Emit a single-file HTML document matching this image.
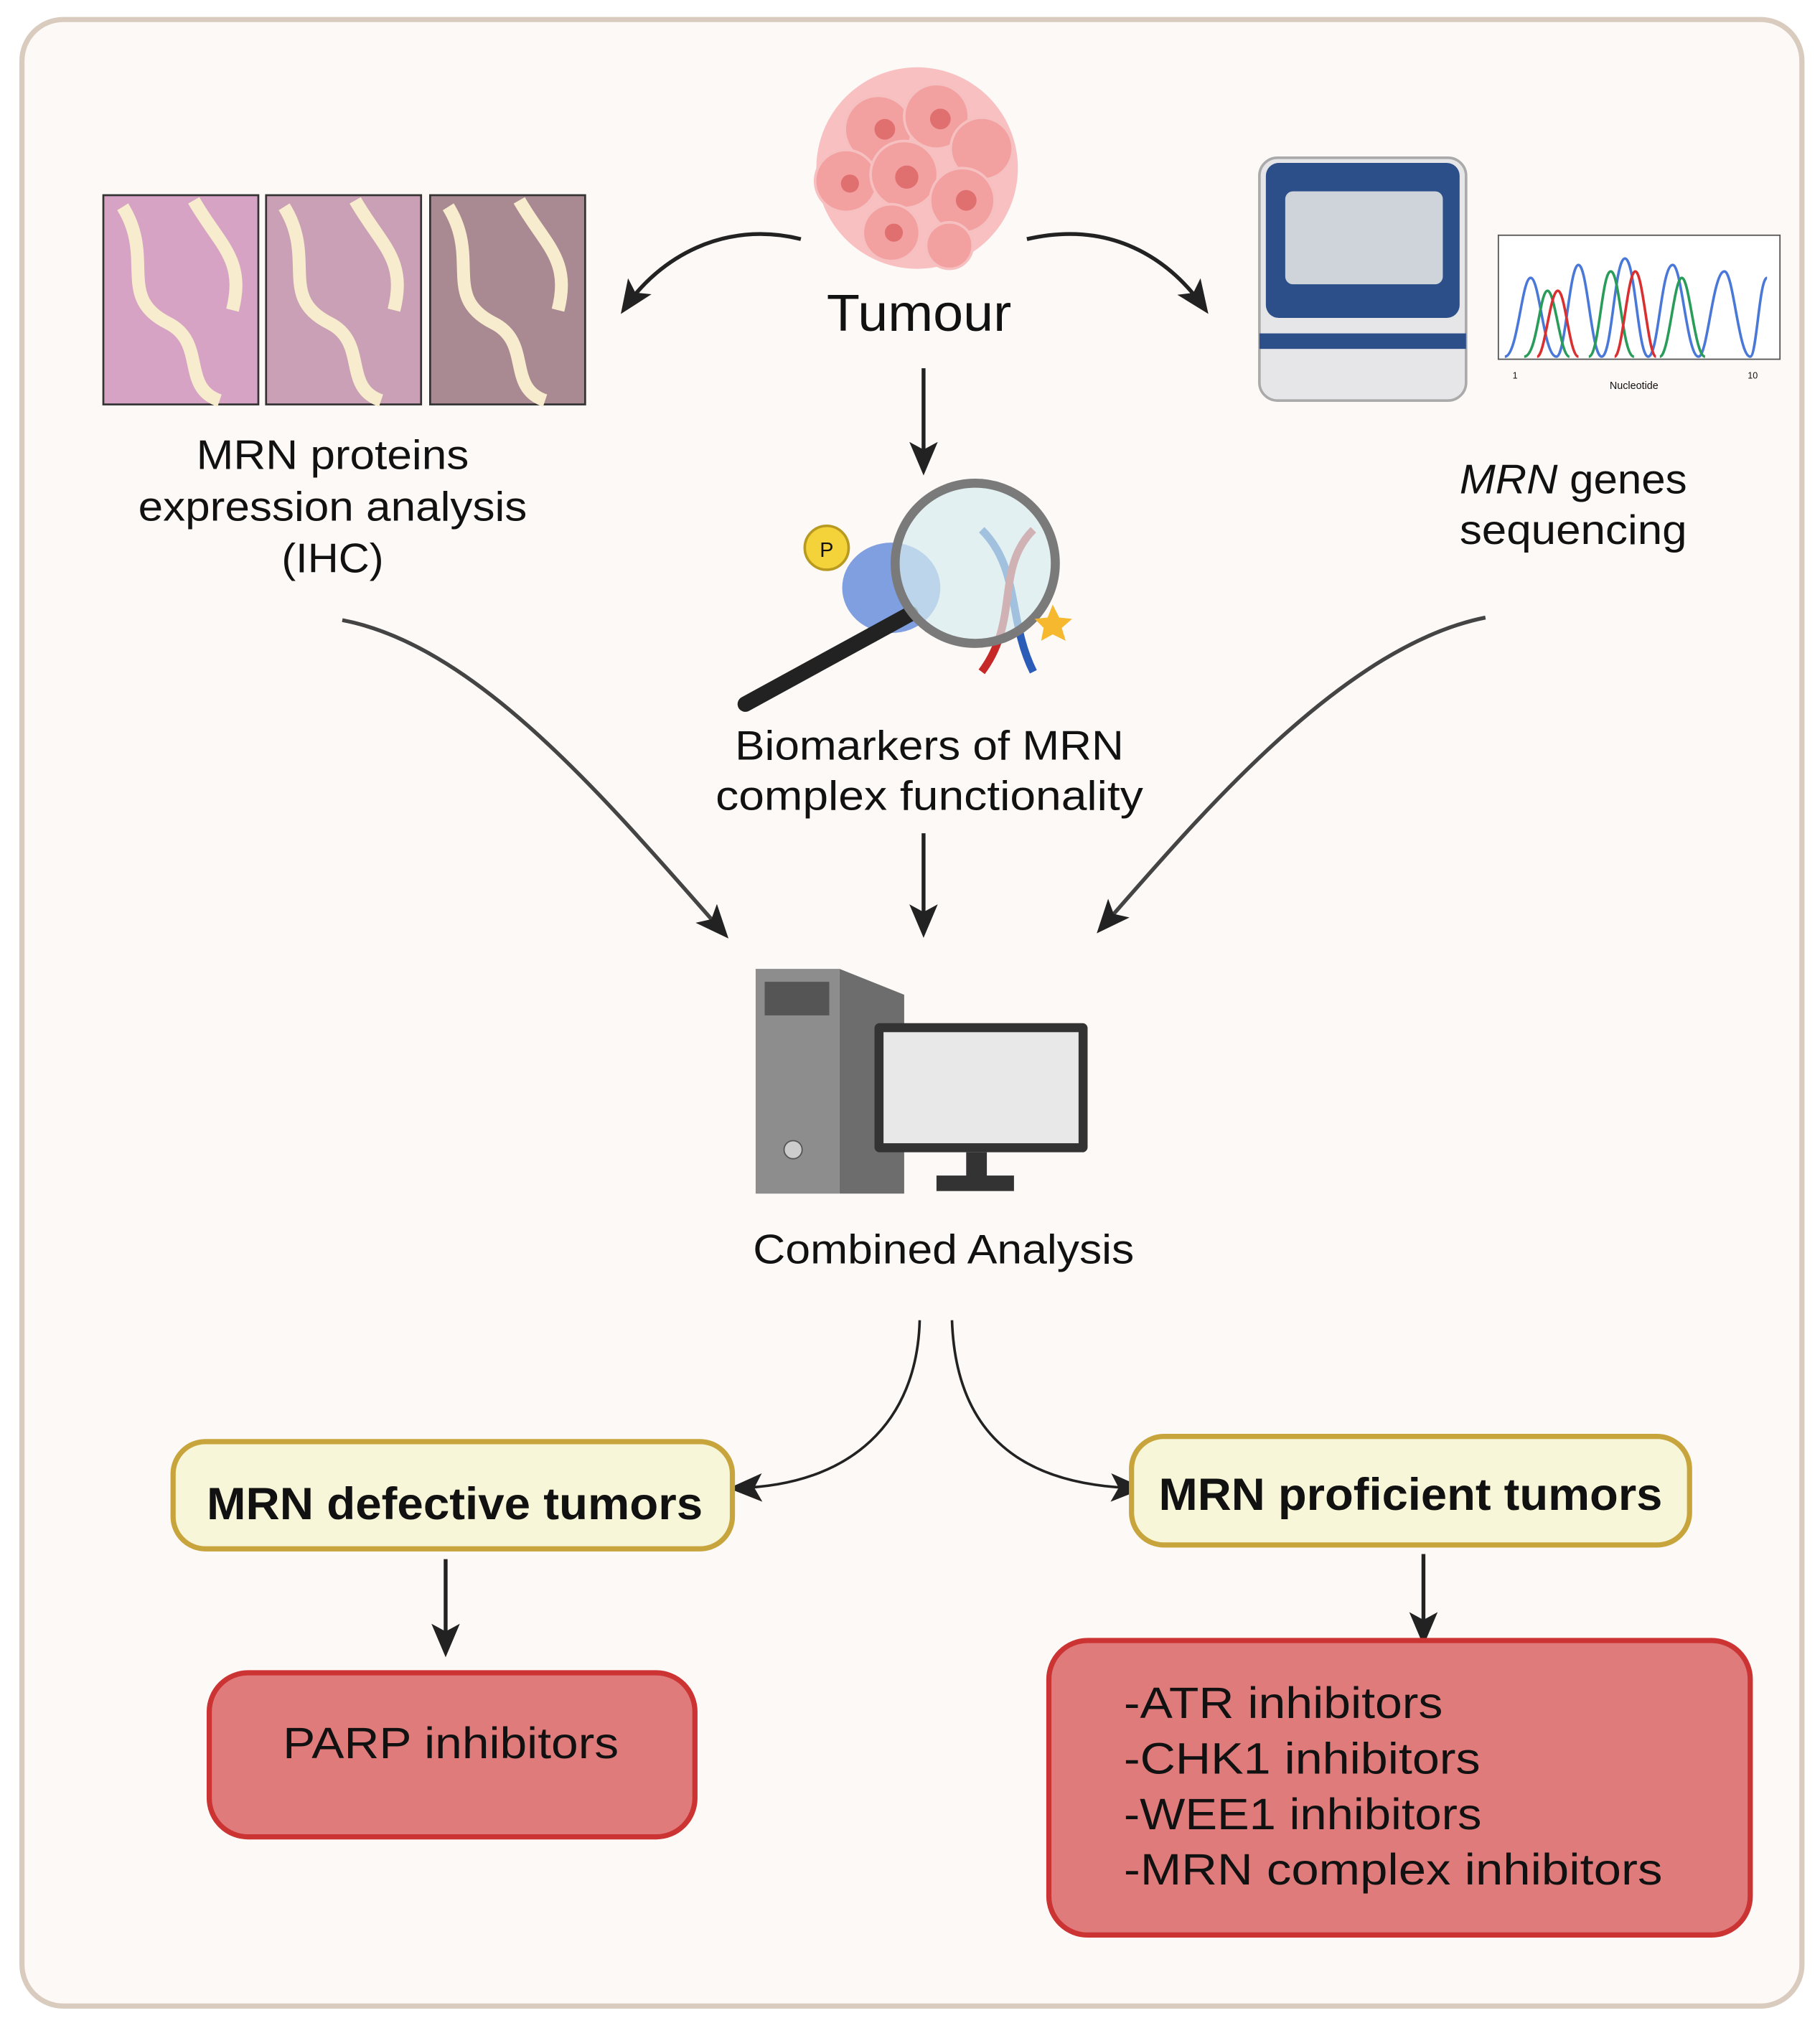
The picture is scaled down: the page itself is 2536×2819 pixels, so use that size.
<!DOCTYPE html>
<html><head><meta charset="utf-8"><style>html,body{margin:0;padding:0;background:#fff}svg{display:block}text{font-family:"Liberation Sans",sans-serif;fill:#111}</style></head><body>
<svg width="2536" height="2819" viewBox="0 0 1409 1566" xmlns="http://www.w3.org/2000/svg">
<defs>
<marker id="ah2" markerWidth="26" markerHeight="26" refX="20" refY="13" orient="auto" markerUnits="userSpaceOnUse" viewBox="0 0 26 26"><path d="M0,2 L26,13 L0,24 L6,13 z" fill="#222"/></marker>
</defs>
<rect x="17" y="15" width="1378" height="1538" rx="32" fill="#fdf9f6" stroke="#dacbbf" stroke-width="4"/>
<!-- tumour -->
<g fill="#f3a0a0" stroke="#f7c0c0" stroke-width="2">
<circle cx="710" cy="130" r="78" fill="#f8c0c0" stroke="none"/>
<circle cx="680" cy="100" r="26"/><circle cx="725" cy="90" r="25"/><circle cx="760" cy="115" r="24"/><circle cx="655" cy="140" r="24"/>
<circle cx="700" cy="135" r="26"/><circle cx="745" cy="155" r="25"/><circle cx="690" cy="180" r="22"/><circle cx="735" cy="190" r="18"/>
</g>
<g fill="#e07070"><circle cx="685" cy="100" r="8"/><circle cx="728" cy="92" r="8"/><circle cx="702" cy="137" r="9"/><circle cx="748" cy="155" r="8"/><circle cx="658" cy="142" r="7"/><circle cx="692" cy="180" r="7"/></g>
<text x="640" y="256" font-size="40" textLength="143" lengthAdjust="spacingAndGlyphs">Tumour</text>
<!-- IHC panels -->
<g stroke="#333" stroke-width="1.5">
<rect x="80" y="151" width="120" height="162" fill="#d7a3c4"/>
<rect x="206" y="151" width="120" height="162" fill="#c9a0b5"/>
<rect x="333" y="151" width="120" height="162" fill="#a98992"/>
</g>
<g fill="none" stroke="#f7eccd" stroke-width="10">
<path d="M95,160 C120,200 90,230 130,250 C160,265 140,300 170,310"/><path d="M150,155 C170,190 190,200 180,240"/>
<path d="M220,160 C245,200 215,230 255,250 C285,265 265,300 295,310"/><path d="M275,155 C295,190 315,200 305,240"/>
<path d="M347,160 C372,200 342,230 382,250 C412,265 392,300 422,310"/><path d="M402,155 C422,190 442,200 432,240"/>
</g>
<text font-size="32"><tspan x="152" y="363" textLength="211" lengthAdjust="spacingAndGlyphs">MRN proteins</tspan></text>
<text x="107" y="403" font-size="32" textLength="301" lengthAdjust="spacingAndGlyphs">expression analysis</text>
<text x="218" y="443" font-size="32" textLength="79" lengthAdjust="spacingAndGlyphs">(IHC)</text>
<!-- sequencer -->
<rect x="975" y="122" width="160" height="188" rx="14" fill="#e6e6e8" stroke="#aaa" stroke-width="2"/>
<rect x="980" y="126" width="150" height="120" rx="10" fill="#2c4f8a"/>
<rect x="995" y="148" width="122" height="72" rx="6" fill="#cfd4da"/>
<rect x="975" y="258" width="160" height="12" fill="#2c4f8a"/>
<rect x="1160" y="182" width="218" height="96" fill="#fff" stroke="#555" stroke-width="1"/>
<path d="M1165,276 C1175,276 1178,215 1185,215 C1192,215 1195,276 1205,276 C1212,276 1215,205 1222,205 C1229,205 1232,276 1240,276 C1248,276 1250,200 1258,200 C1266,200 1268,276 1276,276 C1284,276 1286,205 1295,205 C1302,205 1306,276 1315,276 C1322,276 1326,210 1335,210 C1342,210 1346,276 1355,276 C1360,276 1362,215 1368,215" fill="none" stroke="#4a78d8" stroke-width="2"/>
<path d="M1180,276 C1190,276 1192,225 1198,225 C1204,225 1208,276 1215,276 M1230,276 C1238,276 1240,210 1247,210 C1254,210 1256,276 1265,276 M1285,276 C1292,276 1296,215 1302,215 C1308,215 1312,276 1320,276" fill="none" stroke="#2a9c5a" stroke-width="2"/>
<path d="M1190,276 C1196,276 1200,225 1206,225 C1212,225 1215,276 1222,276 M1250,276 C1256,276 1260,210 1266,210 C1272,210 1276,276 1282,276" fill="none" stroke="#d83030" stroke-width="2"/>
<text x="1265" y="301" font-size="8" text-anchor="middle">Nucleotide</text>
<text x="1171" y="293" font-size="7">1</text><text x="1353" y="293" font-size="7">10</text>
<text x="1130" y="382" font-size="32" textLength="176" lengthAdjust="spacingAndGlyphs"><tspan font-style="italic">MRN</tspan> genes</text>
<text x="1130" y="421" font-size="32" textLength="176" lengthAdjust="spacingAndGlyphs">sequencing</text>
<!-- magnifier -->
<circle cx="640" cy="424" r="17" fill="#f3d23a" stroke="#b89a20" stroke-width="2"/><text x="640" y="431" font-size="16" text-anchor="middle">P</text>
<ellipse cx="690" cy="455" rx="38" ry="35" fill="#7f9fe0"/>
<path d="M760,410 C790,440 780,480 800,520" stroke="#2a5cb8" stroke-width="6" fill="none"/>
<path d="M800,410 C770,440 790,480 760,520" stroke="#c62828" stroke-width="6" fill="none"/>
<line x1="577" y1="545" x2="705" y2="475" stroke="#222" stroke-width="12" stroke-linecap="round"/>
<circle cx="755" cy="436" r="62" fill="#d5ecef" fill-opacity="0.7" stroke="#7a7a7a" stroke-width="7"/>
<path d="M815,468 l5,10 l10,1 l-8,7 l3,10 l-10,-5 l-9,5 l2,-10 l-7,-7 l10,-1z" fill="#f5b82e"/>
<text x="569" y="588" font-size="32" textLength="301" lengthAdjust="spacingAndGlyphs">Biomarkers of MRN</text>
<text x="554" y="627" font-size="32" textLength="331" lengthAdjust="spacingAndGlyphs">complex functionality</text>
<!-- computer -->
<rect x="585" y="750" width="65" height="174" fill="#8d8d8d"/>
<polygon points="650,750 700,770 700,924 650,924" fill="#6d6d6d"/>
<rect x="592" y="760" width="50" height="26" fill="#555"/>
<circle cx="614" cy="890" r="7" fill="#ccc" stroke="#555"/>
<rect x="677" y="792" width="165" height="100" rx="4" fill="#333"/>
<rect x="684" y="799" width="151" height="86" fill="#e8e8e8"/>
<rect x="748" y="892" width="16" height="20" fill="#333"/><rect x="725" y="910" width="60" height="12" fill="#333"/>
<text x="583" y="978" font-size="32" textLength="295" lengthAdjust="spacingAndGlyphs">Combined Analysis</text>
<!-- arrows -->
<g fill="none" stroke="#222" stroke-width="3">
<path d="M620,185 C560,170 510,200 484,238" marker-end="url(#ah2)"/>
<path d="M795,185 C860,170 905,200 932,238" marker-end="url(#ah2)"/>
<path d="M715,285 L715,362" marker-end="url(#ah2)"/>
<path d="M715,645 L715,720" marker-end="url(#ah2)"/>
<path d="M265,480 C370,500 470,620 560,722" marker-end="url(#ah2)" stroke="#444"/>
<path d="M1150,478 C1040,500 930,630 853,718" marker-end="url(#ah2)" stroke="#444"/>
<path d="M712,1022 C710,1100 660,1150 570,1152" marker-end="url(#ah2)" stroke-width="2"/>
<path d="M737,1022 C740,1110 790,1150 880,1152" marker-end="url(#ah2)" stroke-width="2"/>
<path d="M345,1207 L345,1277" marker-end="url(#ah2)"/>
<path d="M1102,1203 L1102,1268" marker-end="url(#ah2)"/>
</g>
<!-- boxes -->
<rect x="134" y="1116" width="433" height="83" rx="25" fill="#f8f6d8" stroke="#c8a53c" stroke-width="4"/>
<text x="160" y="1176" font-size="35" font-weight="bold" textLength="384" lengthAdjust="spacingAndGlyphs">MRN defective tumors</text>
<rect x="876" y="1112" width="432" height="84" rx="25" fill="#f8f6d8" stroke="#c8a53c" stroke-width="4"/>
<text x="897" y="1169" font-size="35" font-weight="bold" textLength="390" lengthAdjust="spacingAndGlyphs">MRN proficient tumors</text>
<rect x="162" y="1295" width="376" height="127" rx="30" fill="#e07b7b" stroke="#cc3333" stroke-width="4"/>
<text x="219" y="1361" font-size="34" textLength="260" lengthAdjust="spacingAndGlyphs">PARP inhibitors</text>
<rect x="812" y="1270" width="543" height="228" rx="30" fill="#e07b7b" stroke="#cc3333" stroke-width="4"/>
<text x="870" y="1330" font-size="34" textLength="247" lengthAdjust="spacingAndGlyphs">-ATR inhibitors</text>
<text x="870" y="1373" font-size="34" textLength="276" lengthAdjust="spacingAndGlyphs">-CHK1 inhibitors</text>
<text x="870" y="1416" font-size="34" textLength="277" lengthAdjust="spacingAndGlyphs">-WEE1 inhibitors</text>
<text x="870" y="1459" font-size="34" textLength="417" lengthAdjust="spacingAndGlyphs">-MRN complex inhibitors</text>
</svg>
</body></html>
